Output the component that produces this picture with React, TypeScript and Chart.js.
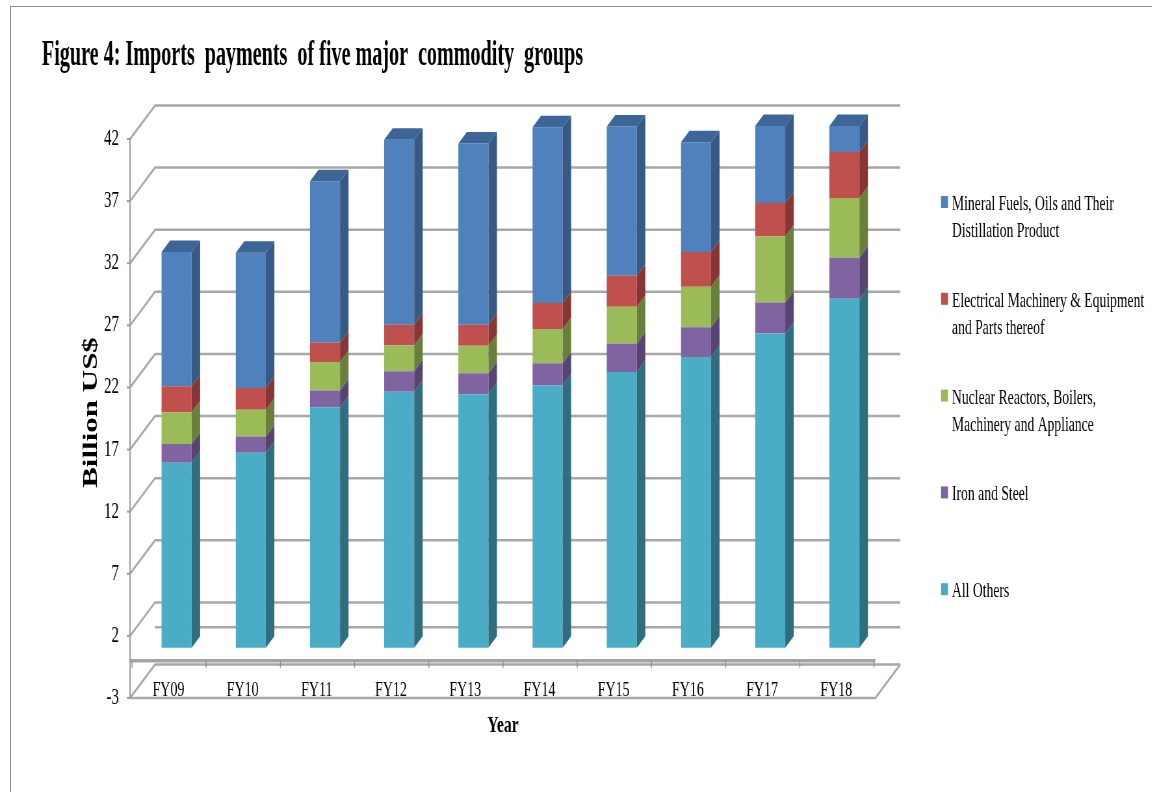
import React, { useEffect, useRef } from "react";
import { Chart, registerables } from "chart.js";

Chart.register(...registerables);

// ---------- data ----------
const CATEGORIES = ["FY09", "FY10", "FY11", "FY12", "FY13", "FY14", "FY15", "FY16", "FY17", "FY18"];
const ALL_OTHERS = [14.9, 15.7, 19.35, 20.6, 20.4, 21.1, 22.2, 23.4, 25.3, 28.1];
const IRON_STEEL = [1.5, 1.3, 1.35, 1.65, 1.7, 1.8, 2.3, 2.4, 2.5, 3.3];
const NUCLEAR = [2.55, 2.15, 2.3, 2.1, 2.2, 2.75, 2.95, 3.25, 5.3, 4.8];
const ELECTRICAL = [2.1, 1.75, 1.55, 1.65, 1.7, 2.1, 2.5, 2.8, 2.7, 3.7];
const MINERAL = [10.8, 10.9, 13.0, 14.9, 14.6, 14.15, 12.0, 8.85, 6.2, 2.1];
const Y_TICKS = [-3, 2, 7, 12, 17, 22, 27, 32, 37, 42];

const SERIES_NAMES = [
  "All Others",
  "Iron and Steel",
  "Nuclear Reactors, Boilers, Machinery and Appliance",
  "Electrical Machinery & Equipment and Parts thereof",
  "Mineral Fuels, Oils and Their Distillation Product",
];
const LEGEND_LINES = [
  ["All Others"],
  ["Iron and Steel"],
  ["Nuclear Reactors, Boilers,", "Machinery and Appliance"],
  ["Electrical Machinery & Equipment", "and Parts thereof"],
  ["Mineral Fuels, Oils and Their", "Distillation Product"],
];
const TITLE = "Figure 4: Imports  payments  of five major  commodity  groups";
const Y_TITLE = "Billion US$";
const X_TITLE = "Year";

const FRONT_COLORS = ["#4BACC6", "#8064A2", "#9BBB59", "#C0504D", "#4F81BD"];
const SIDE_COLORS = ["#2F6E7F", "#574571", "#69803C", "#873634", "#365986"];
const TOP_COLORS = ["#3C8CA2", "#6A5387", "#82A04A", "#A54543", "#3D6597"];

// ---------- layout (uncompressed units, whole picture squeezed by S) ----------
const S = 0.65;
const W = Math.round(1152 / S);
const H = 792;
const BDX = 25 / S; // back-wall depth offset
const BDY = 33.5;
const BARDX = 7.5 / S; // bar plane offset
const BARDY = 13;
const SDX = 8.5 / S; // bar depth
const SDY = 11.5;

const threeD = {
  id: "threeD",
  beforeDatasetsDraw(chart: any) {
    const { ctx, chartArea: a, scales } = chart;
    const xs = scales.x;
    const ys = scales.y;
    const L = a.left - 3;
    const R = a.right + 2;
    ctx.save();
    ctx.strokeStyle = "#a8a8a8";
    ctx.lineWidth = 2.5;
    ctx.lineJoin = "miter";
    for (const v of Y_TICKS) {
      const py = ys.getPixelForValue(v);
      ctx.beginPath();
      ctx.moveTo(L, py);
      ctx.lineTo(L + BDX, py - BDY);
      ctx.lineTo(R + BDX, py - BDY);
      ctx.stroke();
    }
    const y0 = ys.getPixelForValue(0);
    const yb = ys.getPixelForValue(Y_TICKS[0]);
    const yt = ys.getPixelForValue(Y_TICKS[Y_TICKS.length - 1]);
    // back line of zero plane
    ctx.beginPath();
    ctx.moveTo(L + BDX, y0 - BDY);
    ctx.lineTo(R + BDX, y0 - BDY);
    ctx.stroke();
    // floor front + right edge
    ctx.beginPath();
    ctx.moveTo(L, yb);
    ctx.lineTo(R, yb);
    ctx.lineTo(R + BDX, yb - BDY);
    ctx.stroke();
    // category axis at zero
    ctx.lineWidth = 3.5;
    ctx.strokeStyle = "#a4a4a4";
    ctx.beginPath();
    ctx.moveTo(L, y0);
    ctx.lineTo(R, y0);
    ctx.stroke();
    ctx.lineWidth = 1.5;
    ctx.strokeStyle = "#8c8c8c";
    const n = CATEGORIES.length;
    const cw = (a.right - a.left) / n;
    const first = xs.getPixelForValue(0) - cw / 2;
    for (let i = 0; i <= n; i++) {
      const px = first + i * cw;
      ctx.beginPath();
      ctx.moveTo(px, y0);
      ctx.lineTo(px, y0 + 7);
      ctx.stroke();
    }
    // value axis
    ctx.strokeStyle = "#9a9a9a";
    ctx.lineWidth = 2;
    ctx.beginPath();
    ctx.moveTo(L, yt);
    ctx.lineTo(L, yb);
    ctx.stroke();
    for (const v of Y_TICKS) {
      const py = ys.getPixelForValue(v);
      ctx.beginPath();
      ctx.moveTo(L - 5, py);
      ctx.lineTo(L, py);
      ctx.stroke();
    }
    ctx.restore();
    // shift bars to their plane
    ctx.save();
    ctx.translate(BARDX, -BARDY);
  },
  afterDatasetsDraw(chart: any) {
    const ctx = chart.ctx;
    const nds = chart.data.datasets.length;
    chart.data.datasets.forEach((_ds: any, di: number) => {
      const meta = chart.getDatasetMeta(di);
      meta.data.forEach((el: any) => {
        const p = el.getProps(["x", "y", "base", "width"], true);
        const left = p.x - p.width / 2;
        const right = p.x + p.width / 2;
        const top = Math.min(p.y, p.base);
        const bottom = Math.max(p.y, p.base);
        ctx.fillStyle = SIDE_COLORS[di];
        ctx.beginPath();
        ctx.moveTo(right, top);
        ctx.lineTo(right + SDX, top - SDY);
        ctx.lineTo(right + SDX, bottom - SDY);
        ctx.lineTo(right, bottom);
        ctx.closePath();
        ctx.fill();
        if (di === nds - 1) {
          ctx.fillStyle = TOP_COLORS[di];
          ctx.beginPath();
          ctx.moveTo(left, top);
          ctx.lineTo(left + SDX, top - SDY);
          ctx.lineTo(right + SDX, top - SDY);
          ctx.lineTo(right, top);
          ctx.closePath();
          ctx.fill();
        }
      });
    });
    ctx.restore();
  },
  afterDraw(chart: any) {
    const { ctx, chartArea: a, scales } = chart;
    const xs = scales.x;
    const ys = scales.y;
    const yb = ys.getPixelForValue(Y_TICKS[0]);
    ctx.save();
    ctx.fillStyle = "#000";
    // category labels on the floor
    ctx.font = '21.5px "Liberation Serif"';
    ctx.textAlign = "center";
    ctx.textBaseline = "alphabetic";
    CATEGORIES.forEach((c, i) => {
      ctx.fillText(c, xs.getPixelForValue(i) - 1, yb - 2);
    });
    // x title
    ctx.font = 'bold 24px "Liberation Serif"';
    ctx.fillText(X_TITLE, (a.left + a.right) / 2, 732);
    // y title
    ctx.save();
    ctx.translate(97 / S, (ys.top + ys.bottom) / 2 - 6);
    ctx.rotate(-Math.PI / 2);
    ctx.font = 'bold 31px "Liberation Serif"';
    ctx.textAlign = "center";
    ctx.fillText(Y_TITLE, 0, 0);
    ctx.restore();
    // chart title
    ctx.save();
    ctx.font = 'bold 35px "Liberation Serif"';
    ctx.textAlign = "left";
    const tw = ctx.measureText(TITLE).width;
    ctx.translate(42 / S, 65);
    ctx.scale((541 / S) / tw, 1);
    ctx.fillText(TITLE, 0, 0);
    ctx.restore();
    // legend (top item = last dataset)
    ctx.font = '21px "Liberation Serif"';
    ctx.textAlign = "left";
    const mx = 941 / S;
    const tx = 952 / S;
    for (let k = 0; k < SERIES_NAMES.length; k++) {
      const di = SERIES_NAMES.length - 1 - k;
      const cy = 204 + k * 96.8;
      ctx.fillStyle = FRONT_COLORS[di];
      ctx.fillRect(mx, cy - 8, 7 / S, 12);
      ctx.fillStyle = "#000";
      LEGEND_LINES[di].forEach((line, li) => {
        ctx.fillText(line, tx, cy + 6 + li * 27);
      });
    }
    ctx.restore();
  },
};

export default function App() {
  const ref = useRef<HTMLCanvasElement>(null);
  useEffect(() => {
    const canvas = ref.current;
    if (!canvas) return;
    const series = [ALL_OTHERS, IRON_STEEL, NUCLEAR, ELECTRICAL, MINERAL];
    const chart = new Chart(canvas, {
      type: "bar",
      data: {
        labels: CATEGORIES,
        datasets: series.map((d, i) => ({
          label: SERIES_NAMES[i],
          data: d,
          backgroundColor: FRONT_COLORS[i],
          borderWidth: 0,
          barPercentage: 0.405,
          categoryPercentage: 1,
          clip: false as any,
        })),
      },
      options: {
        responsive: false,
        animation: false,
        events: [],
        layout: {
          padding: { left: 132 / S - 60, right: W - 874 / S, top: 139, bottom: H - 698 },
        },
        plugins: {
          legend: { display: false },
          tooltip: { enabled: false },
          title: { display: false },
        },
        scales: {
          x: {
            stacked: true,
            display: false,
            offset: true,
            grid: { display: false },
          },
          y: {
            stacked: true,
            min: -3,
            max: 42,
            grid: { display: false, drawTicks: false },
            border: { display: false },
            ticks: {
              color: "#000",
              padding: 20,
              font: { family: "Liberation Serif", size: 23 },
            },
            afterBuildTicks: (s: any) => {
              s.ticks = Y_TICKS.map((v) => ({ value: v }));
            },
            afterFit: (s: any) => {
              s.width = 60;
            },
          },
        },
      },
      plugins: [threeD],
    });
    return () => chart.destroy();
  }, []);

  return (
    <div
      style={{
        position: "absolute",
        left: 0,
        top: 0,
        width: 1152,
        height: 792,
        overflow: "hidden",
        background: "#fff",
      }}
    >
      <div
        style={{
          position: "absolute",
          left: 10,
          top: 6,
          width: 1400,
          height: 1000,
          border: "1.5px solid #8c8c8c",
        }}
      />
      <div
        style={{
          position: "absolute",
          left: 0,
          top: 0,
          width: W,
          height: H,
          transform: `scaleX(${S})`,
          transformOrigin: "0 0",
        }}
      >
        <canvas ref={ref} width={W} height={H} style={{ width: W, height: H, display: "block" }} />
      </div>
    </div>
  );
}
